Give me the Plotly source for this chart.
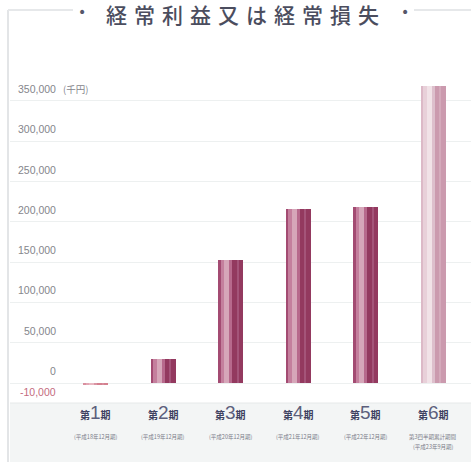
import plotly.graph_objects as go

# Ordinary profit / loss per fiscal period (thousand yen)
periods = ["第1期", "第2期", "第3期", "第4期", "第5期", "第6期"]
period_nums = ["1", "2", "3", "4", "5", "6"]
period_notes = [
    ["(平成18年12月期)"],
    ["(平成19年12月期)"],
    ["(平成20年12月期)"],
    ["(平成21年12月期)"],
    ["(平成22年12月期)"],
    ["第3四半期累計期間", "(平成23年9月期)"],
]
values = [-2500, 30000, 153000, 216000, 218000, 369000]

tick_vals = [350000, 300000, 250000, 200000, 150000, 100000, 50000, 0]
tick_text = ["350,000", "300,000", "250,000", "200,000", "150,000", "100,000", "50,000", "0"]
neg_tick_val = -10000
neg_tick_text = "-10,000"
unit_text = "(千円)"

W, H = 471, 462
ML, MR, MT, MB = 10, 0, 11, 59
PW, PH = W - ML - MR, H - MT - MB


def px(x):
    return (x - ML) / PW


def py(y):
    return (H - MB - y) / PH


# vertical stripes making up each bar: (left, right) as fraction of width
stripes = [(0.0, 0.1), (0.1, 0.25), (0.25, 0.45), (0.45, 0.56), (0.56, 1.0), (0.76, 0.8)]
dark = ["#a34b72", "#c47f9d", "#d6a6b9", "#b7698c", "#93395f", "#a45479"]
pale = ["#dcb9c7", "#e8d0d9", "#f1e2e7", "#ddbfcc", "#cb9aae", "#d4aabb"]
neg = ["#d9909f", "#e2a6b3", "#e9b8c2", "#da95a4", "#d4808f", "#d88e9d"]
bar_palettes = [neg, dark, dark, dark, dark, pale]

BW = 0.37
xs = list(range(len(values)))

fig = go.Figure()
for si, (a, b) in enumerate(stripes):
    fig.add_trace(go.Bar(
        x=xs, y=values,
        offset=-BW / 2 + a * BW,
        width=(b - a) * BW,
        marker=dict(color=[p[si] for p in bar_palettes], line=dict(width=0)),
        hoverinfo="skip",
        showlegend=False,
    ))

shapes = [
    # bottom band holding the period labels
    dict(type="rect", xref="paper", yref="paper", x0=0, x1=1, y0=py(H), y1=0,
         fillcolor="#f3f5f5", line=dict(width=0), layer="below"),
    dict(type="line", xref="paper", yref="paper", x0=0, x1=1, y0=0, y1=0,
         line=dict(color="#e6e9e9", width=1)),
    # frame
    dict(type="line", xref="paper", yref="paper", x0=px(8), x1=px(8), y0=py(10), y1=py(H),
         line=dict(color="#e3e5e7", width=2)),
    dict(type="line", xref="paper", yref="paper", x0=px(8), x1=px(73), y0=py(10), y1=py(10),
         line=dict(color="#e6e8ea", width=2)),
    dict(type="line", xref="paper", yref="paper", x0=px(414), x1=px(W), y0=py(10), y1=py(10),
         line=dict(color="#e6e8ea", width=2)),
]

annotations = []
font_jp = "Noto Sans CJK JP"
sp = "\u2004"
annotations.append(dict(
    xref="paper", yref="paper", x=px(242), y=py(14), xanchor="center", yanchor="middle",
    text=sp.join("経常利益又は経常損失"), showarrow=False,
    font=dict(family=font_jp, size=21, color="#4b4d5e", weight=500),
))
for dx in (82, 405):
    annotations.append(dict(
        xref="paper", yref="paper", x=px(dx), y=py(12), xanchor="center", yanchor="middle",
        text="•", showarrow=False, font=dict(family="DejaVu Sans", size=14, color="#55576a"),
    ))

# y-axis value labels sit just above their gridlines
for v, t in zip(tick_vals, tick_text):
    annotations.append(dict(
        xref="paper", yref="y", x=px(58), y=v, xanchor="right", yanchor="middle", yshift=12,
        text=t, showarrow=False, font=dict(family="Liberation Sans", size=10.5, color="#85868c"),
    ))
annotations.append(dict(
    xref="paper", yref="y", x=px(61), y=tick_vals[0], xanchor="left", yanchor="middle", yshift=12,
    text=unit_text, showarrow=False, font=dict(family=font_jp, size=9.5, color="#85868c"),
))
annotations.append(dict(
    xref="paper", yref="y", x=px(58), y=neg_tick_val, xanchor="right", yanchor="middle", yshift=-1,
    text=neg_tick_text, showarrow=False, font=dict(family="Liberation Sans", size=10.5, color="#c46c80"),
))

# period labels in the bottom band
for i, (num, notes) in enumerate(zip(period_nums, period_notes)):
    annotations.append(dict(
        xref="x", yref="paper", x=i, y=py(412), xanchor="center", yanchor="middle",
        text=(f"<b>第</b><span style='font-size:19px;font-family:Liberation Sans;"
              f"color:#5c5f7c'>{num}</span><b>期</b>"),
        showarrow=False,
        font=dict(family=font_jp, size=10, color="#3f4260"),
    ))
    for j, note in enumerate(notes):
        annotations.append(dict(
            xref="x", yref="paper", x=i, y=py(437 + 10 * j), xanchor="center", yanchor="middle",
            text=note, showarrow=False,
            font=dict(family=font_jp, size=5.5, color="#7a7c88"),
        ))

y_per_px = 50000 / 40.3
fig.update_layout(
    width=W, height=H,
    margin=dict(l=ML, r=MR, t=MT, b=MB, pad=0),
    paper_bgcolor="white", plot_bgcolor="white",
    barmode="overlay", bargap=0,
    xaxis=dict(range=[-1.267, -1.267 + PW / 67.5], showticklabels=False, showgrid=False,
               zeroline=False, fixedrange=True),
    yaxis=dict(range=[-20 * y_per_px, (PH - 20) * y_per_px], tickvals=tick_vals,
               showticklabels=False, showgrid=True, gridcolor="#edf0f0", gridwidth=1,
               zeroline=False, fixedrange=True),
    shapes=shapes,
    annotations=annotations,
    showlegend=False,
)

fig.write_html("out.html")
